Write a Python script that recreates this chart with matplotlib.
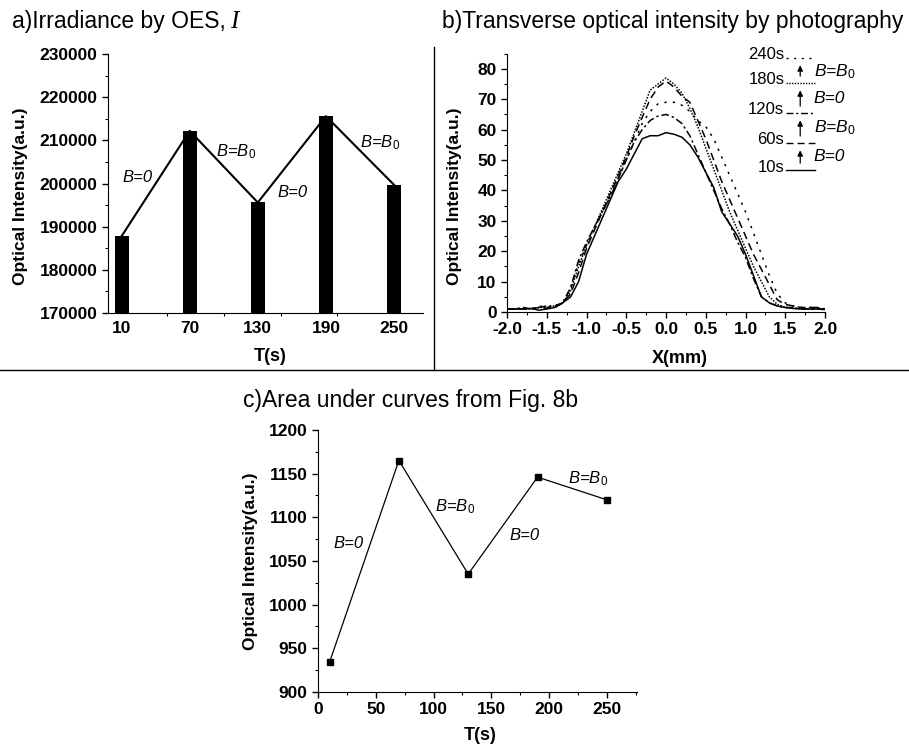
import matplotlib
matplotlib.use('Agg')
import matplotlib.pyplot as plt
from matplotlib.ticker import MultipleLocator, FixedLocator

plt.rcParams['font.family'] = ['Liberation Sans', 'DejaVu Sans']
plt.rcParams['mathtext.fontset'] = 'custom'
plt.rcParams['mathtext.it'] = 'Liberation Sans:italic'
plt.rcParams['mathtext.rm'] = 'Liberation Sans'

# ---------------- data ----------------
# a) irradiance by OES
t_a = [10, 70, 130, 190, 250]
irr = [187800, 212200, 195600, 215600, 199700]

# b) transverse profiles, x grid -2.0 .. 2.0 step 0.1
x_b = [-2.0, -1.9, -1.8, -1.7, -1.6, -1.5, -1.4, -1.3, -1.2, -1.1, -1.0,
       -0.9, -0.8, -0.7, -0.6, -0.5, -0.4, -0.3, -0.2, -0.1, 0.0,
       0.1, 0.2, 0.3, 0.4, 0.5, 0.6, 0.7, 0.8, 0.9, 1.0,
       1.1, 1.2, 1.3, 1.4, 1.5, 1.6, 1.7, 1.8, 1.9, 2.0]
prof_10s = [1, 1, 1, 1.2, 0.6, 1.0, 1.5, 3, 5, 10, 19,
            25, 31, 37, 43, 47, 52, 57, 58, 58, 59,
            58.5, 57.5, 55, 51, 46, 41, 33, 29, 25, 19,
            12, 5, 3, 2, 1.5, 1.2, 1, 1, 1, 0.8]
prof_60s = [1, 1, 1, 1, 1.5, 1.2, 1.5, 3, 6, 13, 21,
            27, 33, 39, 45, 51, 58, 64, 70, 74, 76,
            74, 71, 69, 63, 57, 50, 43, 37, 31, 25,
            19, 14, 9, 4, 2.5, 2, 1.5, 1.5, 1.5, 1]
prof_120s = [1, 1, 1.5, 1, 1.5, 2, 2, 3, 8, 17, 23,
             28, 33, 38, 44, 50, 56, 60, 63, 64.5, 65,
             64, 62, 58, 52, 46, 40, 34, 29, 23, 18,
             11, 5, 3, 2, 1.5, 1.5, 1, 1, 1, 1]
prof_180s = [1, 1, 1, 1, 1.5, 1.5, 2, 3, 7, 15, 22,
             28, 34, 40, 46, 52, 59, 66, 73, 75, 77,
             75, 72, 67, 61, 54, 47, 40, 33, 27, 21,
             15, 10, 5, 2.5, 1.5, 1.2, 1, 1, 1, 1]
prof_240s = [1, 1, 1.5, 1, 2, 1.5, 2, 3, 8, 16, 22,
             28, 33, 38, 44, 50, 56, 62, 66, 68.5, 69,
             69, 68, 66, 63, 61, 57, 51, 45, 39, 33,
             26, 19, 12, 6, 3, 2, 1.5, 1.5, 1.5, 1]
profiles = [prof_10s, prof_60s, prof_120s, prof_180s, prof_240s]
prof_names = ['10s', '60s', '120s', '180s', '240s']
prof_styles = ['-', (0, (5, 3)), (0, (5, 2, 1.5, 2)), (0, (1, 1)), (0, (1.5, 4))]

# c) area under curves
t_c = [10, 70, 130, 190, 250]
area = [934, 1165, 1035, 1146, 1120]

field_labels = ['B=0', r'B=B$_{\mathit{0}}$', 'B=0', r'B=B$_{\mathit{0}}$']

fig = plt.figure(figsize=(9.09, 7.44), dpi=100)


def style_axes(ax):
    ax.spines['top'].set_visible(False)
    ax.spines['right'].set_visible(False)
    ax.tick_params(which='major', direction='out', length=4, width=1)
    ax.tick_params(which='minor', direction='out', length=2.5, width=0.8)
    for lab in ax.get_xticklabels() + ax.get_yticklabels():
        lab.set_fontsize(12.5)
        lab.set_fontweight('bold')


# ---------------- a) ----------------
ax1 = fig.add_axes([0.1188, 0.5793, 0.3465, 0.3481])
ax1.bar(t_a, irr, width=12.5, color='black')
ax1.plot(t_a, irr, color='black', lw=1.5)
ax1.set_xlim(-2, 275.5)
ax1.set_ylim(170000, 230000)
ax1.xaxis.set_major_locator(FixedLocator(t_a))
ax1.xaxis.set_minor_locator(FixedLocator([50, 100, 150, 200, 250]))
ax1.yaxis.set_major_locator(MultipleLocator(10000))
ax1.yaxis.set_minor_locator(MultipleLocator(5000))
style_axes(ax1)
ax1.tick_params(axis='x', which='major', length=0, pad=6)
ax1.set_ylabel('Optical Intensity(a.u.)', fontsize=12.5, fontweight='bold')
ax1.yaxis.set_label_coords(-0.254, 0.45)
ax1.set_xlabel('T(s)', fontsize=13, fontweight='bold')
ax1.xaxis.set_label_coords(0.514, -0.135)
pos_a = [(24, 201500), (111, 207300), (161, 198000), (238, 209400)]
for txt, p in zip(field_labels, pos_a):
    ax1.text(p[0], p[1], txt, fontsize=12, style='italic', ha='center', va='center')

# ---------------- b) ----------------
ax2 = fig.add_axes([0.5578, 0.5806, 0.3498, 0.3473])
for y, ls in zip(profiles, prof_styles):
    ax2.plot(x_b, y, color='black', lw=1.1, linestyle=ls)
ax2.set_xlim(-2, 2)
ax2.set_ylim(0, 85)
ax2.xaxis.set_minor_locator(MultipleLocator(0.25))
ax2.yaxis.set_major_locator(MultipleLocator(10))
ax2.yaxis.set_minor_locator(MultipleLocator(5))
ax2.set_xticks([-2, -1.5, -1, -0.5, 0, 0.5, 1, 1.5, 2])
ax2.set_xticklabels(['-2.0', '-1.5', '-1.0', '-0.5', '0.0', '0.5', '1.0', '1.5', '2.0'])
style_axes(ax2)
ax2.set_ylabel('Optical Intensity(a.u.)', fontsize=12.5, fontweight='bold')
ax2.yaxis.set_label_coords(-0.142, 0.45)
ax2.set_xlabel('X(mm)', fontsize=13, fontweight='bold')
ax2.xaxis.set_label_coords(0.544, -0.145)

# hand-made legend: time labels with line samples, arrows and field labels
rows_y = [0.561, 0.666, 0.782, 0.898, 0.995]
for name, ls, fy in zip(prof_names, prof_styles, rows_y):
    ax2.text(0.872, fy, name, transform=ax2.transAxes, fontsize=12,
             ha='right', va='center')
    ax2.plot([0.878, 0.968], [fy - 0.012, fy - 0.012], transform=ax2.transAxes,
             color='black', lw=1.0, linestyle=ls, clip_on=False)
for i in range(4):
    ax2.annotate('', xy=(0.922, rows_y[i + 1] - 0.04), xytext=(0.922, rows_y[i] + 0.015),
                 xycoords='axes fraction', textcoords='axes fraction',
                 arrowprops=dict(arrowstyle='-|>', color='black', lw=0.9,
                                 mutation_scale=8, shrinkA=0, shrinkB=0))
b_leg_y = [0.600, 0.712, 0.828, 0.929]
for txt, fy in zip(field_labels, b_leg_y):
    ax2.text(0.965, fy, txt, transform=ax2.transAxes, fontsize=12.5,
             style='italic', va='center')

# ---------------- c) ----------------
ax3 = fig.add_axes([0.3498, 0.0699, 0.3509, 0.3522])
ax3.plot(t_c, area, color='black', lw=0.9, marker='s', markersize=4)
ax3.set_xlim(0, 276)
ax3.set_ylim(900, 1200)
ax3.xaxis.set_major_locator(MultipleLocator(50))
ax3.xaxis.set_minor_locator(MultipleLocator(25))
ax3.yaxis.set_major_locator(MultipleLocator(50))
ax3.yaxis.set_minor_locator(MultipleLocator(25))
style_axes(ax3)
ax3.set_ylabel('Optical Intensity(a.u.)', fontsize=12.5, fontweight='bold')
ax3.yaxis.set_label_coords(-0.188, 0.5)
ax3.set_xlabel('T(s)', fontsize=13, fontweight='bold')
ax3.xaxis.set_label_coords(0.508, -0.133)
pos_c = [(26.8, 1069.6), (118.5, 1112), (179, 1079), (233.6, 1144.6)]
for txt, p in zip(field_labels, pos_c):
    ax3.text(p[0], p[1], txt, fontsize=12, style='italic', ha='center', va='center')

# ---------------- titles and dividers ----------------
fig.text(12 / 909, 1 - 28 / 744, 'a)Irradiance by OES,', fontsize=16.5)
fig.text(230 / 909, 1 - 28 / 744, 'I', fontsize=18, family='Liberation Serif',
         style='italic')
fig.text(442 / 909, 1 - 28 / 744, 'b)Transverse optical intensity by photography',
         fontsize=16.5)
fig.text(243 / 909, 1 - 407 / 744, 'c)Area under curves from Fig. 8b', fontsize=16.5)

fig.add_artist(plt.Line2D([434 / 909, 434 / 909], [1 - 47 / 744, 1 - 370 / 744],
                          color='black', lw=1.0))
fig.add_artist(plt.Line2D([0, 1], [1 - 370 / 744, 1 - 370 / 744],
                          color='black', lw=1.0))

fig.savefig('out.png', dpi=100)
